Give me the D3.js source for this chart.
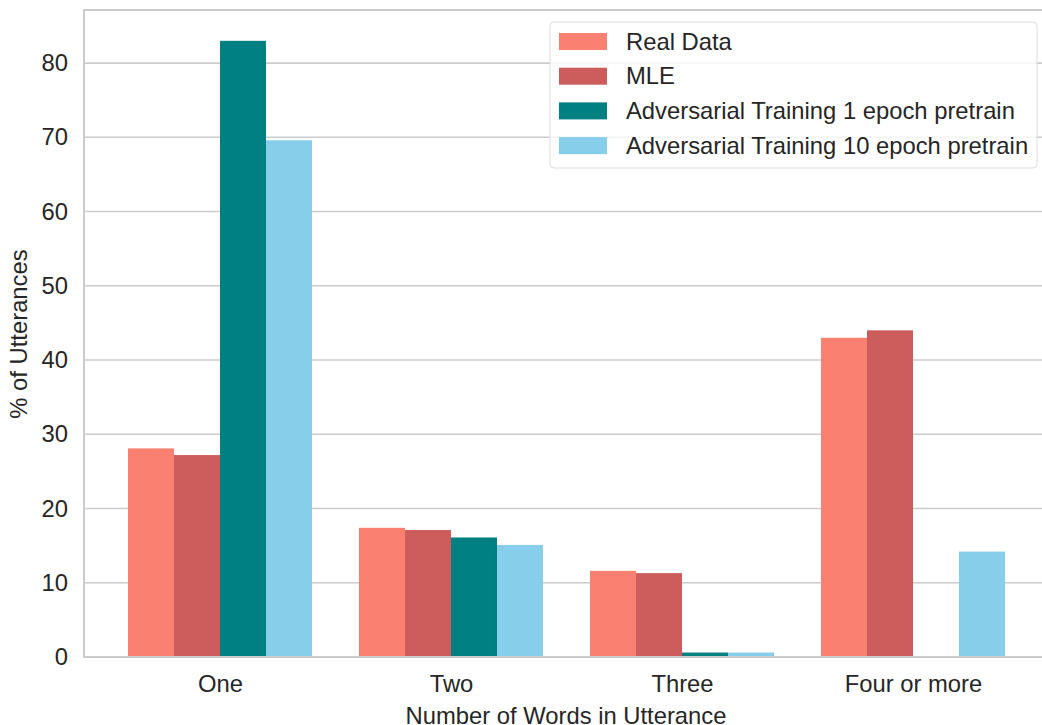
<!DOCTYPE html>
<html><head><meta charset="utf-8">
<script src="https://cdn.jsdelivr.net/npm/d3@7"></script>
<style>body{margin:0;background:#fff}svg{display:block}text{font-family:"Liberation Sans",Arial,sans-serif;fill:#262626}</style>
</head><body>
<svg id="chart" width="1042" height="725"></svg>
<script>
const categories = ["One", "Two", "Three", "Four or more"];
const seriesNames = ["Real Data", "MLE", "Adversarial Training 1 epoch pretrain", "Adversarial Training 10 epoch pretrain"];
const realData = [28.1, 17.4, 11.6, 43.0];
const mle = [27.2, 17.1, 11.3, 44.0];
const adv1 = [83.0, 16.1, 0.6, 0.0];
const adv10 = [69.6, 15.1, 0.6, 14.2];
const colors = ["#FA8072", "#CD5C5C", "#008080", "#87CEEB"];
const yTicks = [0, 10, 20, 30, 40, 50, 60, 70, 80];
const seriesValues = [realData, mle, adv1, adv10];

const svg = d3.select("#chart");
const pLeft = 84, pTop = 10, pBottom = 657, pRight = 1046;
const fs = 23.8;

const y = d3.scaleLinear().domain([0, 87.15]).range([pBottom, pTop]);
const x = d3.scalePoint().domain(categories).range([220, 913]);
const xs = d3.scaleBand().domain(seriesNames).range([-92, 92]);

// frame
svg.append("rect").attr("x", pLeft).attr("y", pTop).attr("width", pRight - pLeft).attr("height", pBottom - pTop)
  .attr("fill", "#fff").attr("stroke", "#cccccc").attr("stroke-width", 2);

// grid
svg.append("g").selectAll("line").data(yTicks.filter(d => d > 0)).join("line")
  .attr("x1", pLeft).attr("x2", pRight).attr("y1", d => y(d)).attr("y2", d => y(d))
  .attr("stroke", "#cccccc").attr("stroke-width", 1.6);

// bars
seriesNames.forEach((s, si) => {
  svg.append("g").selectAll("rect").data(categories).join("rect")
    .attr("x", c => x(c) + xs(s))
    .attr("width", xs.bandwidth())
    .attr("y", (c, i) => y(seriesValues[si][i]))
    .attr("height", (c, i) => y(0) - y(seriesValues[si][i]))
    .attr("fill", colors[si]);
});

// bottom frame line redraw over bars
svg.append("line").attr("x1", pLeft).attr("x2", pRight).attr("y1", pBottom).attr("y2", pBottom)
  .attr("stroke", "#cccccc").attr("stroke-width", 2);

// y axis ticks
const yAxis = d3.axisLeft(y).tickValues(yTicks).tickSize(0).tickPadding(16);
const yg = svg.append("g").attr("transform", `translate(${pLeft},0)`).call(yAxis);
yg.select(".domain").remove();
yg.selectAll("text").style("font-size", fs + "px").attr("fill", "#262626");

// x axis ticks
const xAxis = d3.axisBottom(x).tickSize(0).tickPadding(18);
const xg = svg.append("g").attr("transform", `translate(0,${pBottom})`).call(xAxis);
xg.select(".domain").remove();
xg.selectAll("text").style("font-size", fs + "px").attr("fill", "#262626");

// axis labels
svg.append("text").attr("x", 566).attr("y", 724).attr("text-anchor", "middle")
  .style("font-size", fs + "px").text("Number of Words in Utterance");
svg.append("text").attr("transform", "translate(27,334) rotate(-90)").attr("text-anchor", "middle")
  .style("font-size", fs + "px").text("% of Utterances");

// legend
const lg = svg.append("g");
lg.append("rect").attr("x", 550).attr("y", 22).attr("width", 487).attr("height", 146).attr("rx", 4)
  .attr("fill", "#fff").attr("fill-opacity", 0.8).attr("stroke", "#dddddd").attr("stroke-width", 1);
seriesNames.forEach((s, i) => {
  const cy = 41 + i * 34.7;
  lg.append("rect").attr("x", 559).attr("y", cy - 8).attr("width", 48).attr("height", 17).attr("fill", colors[i]);
  lg.append("text").attr("x", 626).attr("y", cy + 8.5).style("font-size", fs + "px").text(s);
});
</script>
</body></html>
